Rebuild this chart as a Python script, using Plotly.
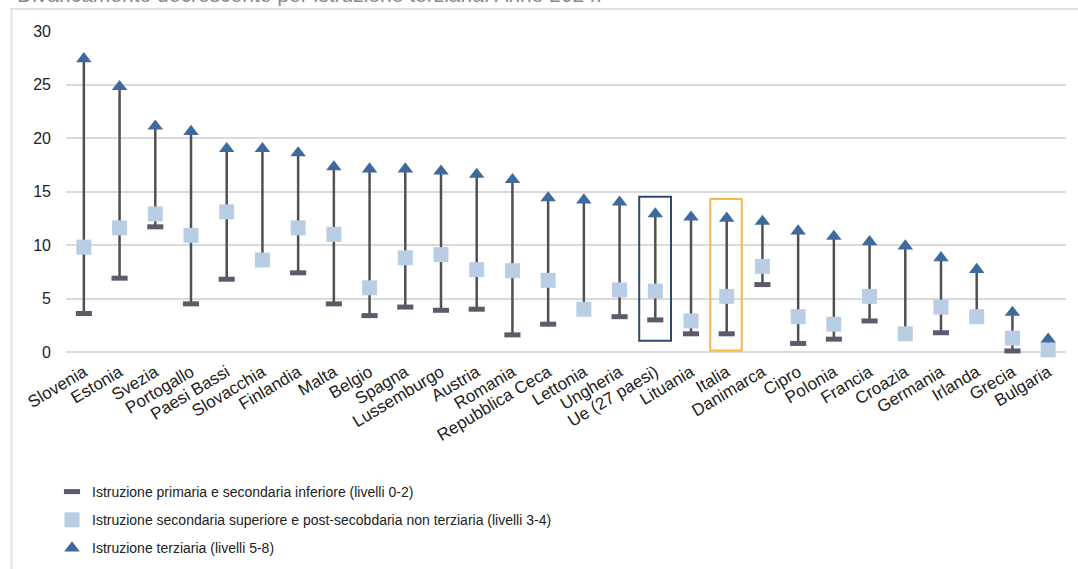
import plotly.graph_objects as go

# Paesi ordinati per valore dell'istruzione terziaria (2024)
paesi = ["Slovenia", "Estonia", "Svezia", "Portogallo", "Paesi Bassi", "Slovacchia",
         "Finlandia", "Malta", "Belgio", "Spagna", "Lussemburgo", "Austria", "Romania",
         "Repubblica Ceca", "Lettonia", "Ungheria", "Ue (27 paesi)", "Lituania", "Italia",
         "Danimarca", "Cipro", "Polonia", "Francia", "Croazia", "Germania", "Irlanda",
         "Grecia", "Bulgaria"]

primaria = [3.6, 6.9, 11.7, 4.5, 6.8, None, 7.4, 4.5, 3.4, 4.2, 3.9, 4.0, 1.6, 2.6,
            None, 3.3, 3.0, 1.7, 1.7, 6.3, 0.8, 1.2, 2.9, None, 1.8, None, 0.1, None]
secondaria = [9.8, 11.6, 12.9, 10.9, 13.1, 8.6, 11.6, 11.0, 6.0, 8.8, 9.1, 7.7, 7.6, 6.7,
              4.0, 5.8, 5.7, 2.9, 5.2, 8.0, 3.3, 2.6, 5.2, 1.7, 4.2, 3.3, 1.3, 0.2]
terziaria = [27.4, 24.8, 21.1, 20.6, 19.0, 19.0, 18.6, 17.3, 17.1, 17.1, 16.9, 16.6, 16.1, 14.4,
             14.2, 14.0, 12.9, 12.6, 12.5, 12.2, 11.3, 10.8, 10.3, 9.9, 8.8, 7.7, 3.7, 1.2]

nome_primaria = "Istruzione primaria e secondaria inferiore (livelli 0-2)"
nome_secondaria = "Istruzione secondaria superiore e post-secobdaria non terziaria (livelli 3-4)"
nome_terziaria = "Istruzione terziaria (livelli 5-8)"
titolo = "Divaricamento decrescente per istruzione terziaria. Anno 2024."

# Linee massimo-minimo per ciascun paese
lx, ly = [], []
for i, p in enumerate(paesi):
    vals = [v for v in (primaria[i], secondaria[i], terziaria[i]) if v is not None]
    lx += [p, p, None]
    ly += [min(vals), max(vals), None]

FONT = "Liberation Sans, Arial, sans-serif"

# Geometria dell'area del grafico (pixel)
TOP, BOTTOM = 31, 352
H = BOTTOM - TOP


def py(pixel_y):
    """Converte una coordinata verticale in pixel in coordinata paper."""
    return (BOTTOM - pixel_y) / H


def px(pixel_x):
    return (pixel_x - 66) / 1000


fig = go.Figure()
fig.add_trace(go.Scatter(x=lx, y=ly, mode="lines", line=dict(color="#505050", width=2.5),
                         showlegend=False, hoverinfo="skip", cliponaxis=False))
fig.add_trace(go.Scatter(x=paesi, y=primaria, mode="markers", name=nome_primaria,
                         legendgroup="a", cliponaxis=False,
                         marker=dict(symbol="line-ew", size=11.5,
                                     line=dict(color="#5e5a6e", width=5))))
fig.add_trace(go.Scatter(x=paesi, y=secondaria, mode="markers", name=nome_secondaria,
                         legendgroup="b", cliponaxis=False,
                         marker=dict(symbol="square", size=15, color="#b9cde5",
                                     line=dict(width=0))))
fig.add_trace(go.Scatter(x=paesi, y=terziaria, mode="markers", name=nome_terziaria,
                         legendgroup="c", cliponaxis=False,
                         marker=dict(symbol="triangle-up", size=13.5, color="#3f6a9d",
                                     line=dict(width=0))))

# Riquadri di evidenziazione: media Ue e Italia
iu = paesi.index("Ue (27 paesi)")
ii = paesi.index("Italia")
fig.add_shape(type="rect", xref="x", yref="y", x0=iu - 0.45, x1=iu + 0.44, y0=1.05, y1=14.5,
              line=dict(color="#2d4a6e", width=2))
fig.add_shape(type="rect", xref="x", yref="y", x0=ii - 0.46, x1=ii + 0.42, y0=0.15, y1=14.3,
              line=dict(color="#f5b944", width=2))

# Cornice del riquadro
fig.add_shape(type="line", xref="paper", yref="paper", x0=px(10), x1=px(1080),
              y0=py(9), y1=py(9), line=dict(color="#e2e2e2", width=2))
fig.add_shape(type="line", xref="paper", yref="paper", x0=px(11.5), x1=px(11.5),
              y0=py(9), y1=py(580), line=dict(color="#e2e2e2", width=2))

fig.add_annotation(text=titolo, xref="paper", yref="paper", x=px(15),
                   y=py(-5), xanchor="left", yanchor="middle", showarrow=False,
                   font=dict(family=FONT, size=21, color="#8a8a8a"))

fig.update_layout(
    width=1078, height=569,
    margin=dict(l=66, r=12, t=TOP, b=569 - BOTTOM, autoexpand=False),
    paper_bgcolor="white", plot_bgcolor="white",
    font=dict(family=FONT, size=16, color="#222222"),
    showlegend=True,
    legend=dict(x=px(52), y=py(476), xanchor="left", yanchor="top",
                tracegroupgap=7, itemwidth=30, bgcolor="rgba(0,0,0,0)",
                font=dict(family=FONT, size=14, color="#222222")),
    xaxis=dict(type="category", range=[-0.5, len(paesi) - 0.5], automargin=False,
               tickangle=-31, showgrid=False, showline=False, ticklabelstandoff=6,
               zeroline=False, ticks="", tickfont=dict(size=17)),
    yaxis=dict(range=[0, 30], dtick=5, automargin=False, showgrid=True,
               gridcolor="#dadada", gridwidth=1.6,
               zeroline=True, zerolinecolor="#dadada", zerolinewidth=1.6,
               showline=False, ticks="", ticklabelstandoff=14, tickfont=dict(size=16)),
)

fig.write_html("out.html")
